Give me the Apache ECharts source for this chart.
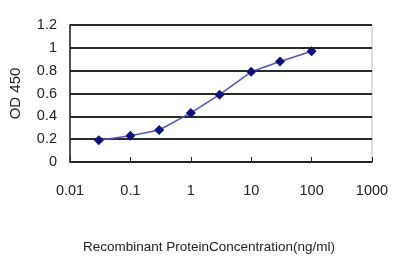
<!DOCTYPE html>
<html>
<head>
<meta charset="utf-8">
<script src="https://cdn.jsdelivr.net/npm/echarts@6/dist/echarts.min.js"></script>
<style>html,body{margin:0;padding:0;background:#fff}#c{width:400px;height:267px}</style>
</head>
<body>
<div id="c"></div>
<script>
const concentrations = [0.03, 0.1, 0.3, 1, 3, 10, 30, 100];
const odValues = [0.19, 0.23, 0.28, 0.43, 0.59, 0.79, 0.88, 0.97];
const xTickLabels = ['0.01', '0.1', '1', '10', '100', '1000'];
const yTickLabels = ['0', '0.2', '0.4', '0.6', '0.8', '1', '1.2'];
const xTitle = 'Recombinant ProteinConcentration(ng/ml)';
const yTitle = 'OD 450';

const chart = echarts.init(document.getElementById('c'));
const font = 'Liberation Sans, Arial, sans-serif';
chart.setOption({
  animation: false,
  grid: { left: 70, right: 28, top: 25, bottom: 105, containLabel: false, outerBoundsMode: 'none',
          show: true, borderColor: '#bbbbbb', borderWidth: 1 },
  xAxis: {
    type: 'log', logBase: 10, min: 0.01, max: 1000,
    name: xTitle, nameLocation: 'middle', nameGap: 78,
    nameTextStyle: { fontFamily: font, fontSize: 13.5, color: '#222', padding: [0, 24, 0, 0] },
    axisLine: { show: true, lineStyle: { color: '#222', width: 1.5 } },
    axisTick: { show: true, inside: true, length: 5, lineStyle: { color: '#222' } },
    minorTick: { show: false },
    splitLine: { show: false },
    axisLabel: { fontFamily: font, fontSize: 14.5, color: '#222', margin: 21,
      formatter: v => { const s = xTickLabels.find(t => Math.abs(parseFloat(t) - v) / v < 1e-6); return s || ''; } }
  },
  yAxis: {
    type: 'value', min: 0, max: 1.2, interval: 0.2,
    name: yTitle, nameLocation: 'middle', nameGap: 47, nameRotate: 90,
    nameTextStyle: { fontFamily: font, fontSize: 15, color: '#222' },
    axisLine: { show: true, lineStyle: { color: '#222', width: 1.5 } },
    axisTick: { show: false },
    splitLine: { show: true, lineStyle: { color: '#2a2a2a', width: 1.8 } },
    axisLabel: { fontFamily: font, fontSize: 14.5, color: '#222', margin: 13,
      formatter: v => { const i = Math.round(v / 0.2); return yTickLabels[i] || ''; } }
  },
  series: [{
    type: 'line',
    data: concentrations.map((c, i) => [c, odValues[i]]),
    symbol: 'diamond', symbolSize: 10,
    lineStyle: { color: '#5555bb', width: 1.5 },
    itemStyle: { color: '#10107a' }
  }]
});
</script>
</body>
</html>
